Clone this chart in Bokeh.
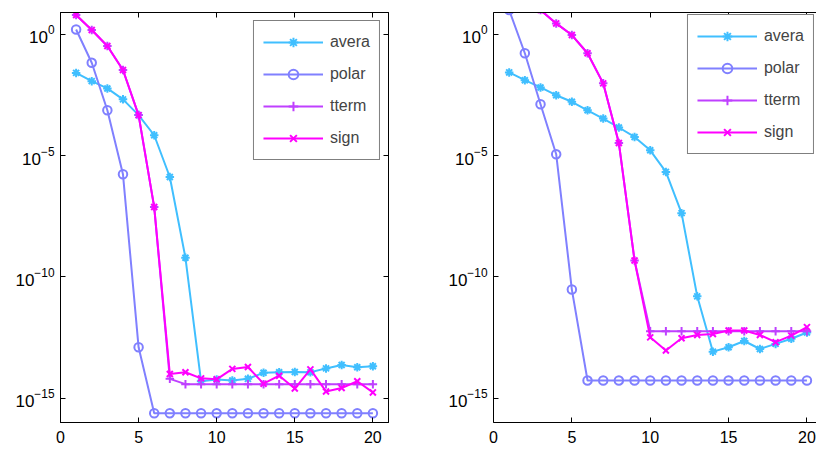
from bokeh.plotting import figure
from bokeh.models import (Range1d, FixedTicker, LogAxis, LinearAxis, Legend, LegendItem,
                          CustomJSTickFormatter, ColumnDataSource)
from bokeh.layouts import row
from bokeh.embed import file_html
from bokeh.resources import INLINE

iterations = list(range(1, 21))
series_names = ["avera", "polar", "tterm", "sign"]
series_colors = ["#40bfff", "#8080ff", "#bf40ff", "#ff00ff"]
series_markers = ["asterisk", "circle", "cross", "x"]
x_ticks = [0, 5, 10, 15, 20]
y_ticks = [1e-15, 1e-10, 1e-5, 1e0]

# log10 of the error, left panel
left_avera = [-1.59, -1.93, -2.23, -2.68, -3.33, -4.16, -5.88, -9.21, -14.30, -14.23,
              -14.27, -14.20, -13.95, -13.93, -13.92, -13.93, -13.77, -13.63, -13.72, -13.68]
left_polar = [0.20, -1.17, -3.13, -5.77, -12.90, -15.62, -15.62, -15.62, -15.62, -15.62,
              -15.62, -15.62, -15.62, -15.62, -15.62, -15.62, -15.62, -15.62, -15.62, -15.62]
left_tterm = [0.80, 0.18, -0.48, -1.47, -3.33, -7.12, -14.20, -14.42, -14.42, -14.42,
              -14.42, -14.42, -14.42, -14.42, -14.42, -14.42, -14.42, -14.42, -14.42, -14.42]
left_sign = [0.80, 0.18, -0.48, -1.47, -3.33, -7.12, -14.00, -13.93, -14.18, -14.22,
             -13.79, -13.71, -14.40, -14.07, -14.60, -13.81, -14.72, -14.58, -14.30, -14.76]

# log10 of the error, right panel
right_avera = [-1.57, -1.89, -2.19, -2.51, -2.78, -3.13, -3.47, -3.84, -4.23, -4.78,
               -5.67, -7.37, -10.80, -13.08, -12.90, -12.64, -12.97, -12.76, -12.55, -12.29]
right_polar = [1.00, -0.78, -2.88, -4.94, -10.52, -14.27, -14.27, -14.27, -14.27, -14.27,
               -14.27, -14.27, -14.27, -14.27, -14.27, -14.27, -14.27, -14.27, -14.27, -14.27]
right_tterm = [2.20, 1.60, 1.00, 0.45, -0.03, -0.78, -2.02, -4.48, -9.32, -12.24,
               -12.24, -12.24, -12.24, -12.24, -12.24, -12.24, -12.24, -12.24, -12.24, -12.24]
right_sign = [2.20, 1.60, 1.00, 0.45, -0.03, -0.78, -2.02, -4.48, -9.32, -12.49,
              -13.03, -12.53, -12.39, -12.35, -12.21, -12.21, -12.39, -12.69, -12.42, -12.07]

FONT = "Liberation Sans"


def style_axis(ax, labels=True, size="16px"):
    ax.axis_line_color = "black"
    ax.axis_line_width = 1
    ax.major_tick_in = 5
    ax.major_tick_out = 0
    ax.minor_tick_line_color = None
    ax.major_tick_line_color = "black"
    ax.major_label_text_font = FONT
    ax.major_label_text_font_size = size
    ax.major_label_text_color = "black"
    if not labels:
        ax.formatter = CustomJSTickFormatter(code="return ''")
        ax.major_label_standoff = 0


def make_panel(data, x_end, left_border, right_border, mirror_right, legend_margin):
    p = figure(width=408, height=450, x_range=Range1d(0, x_end),
               y_range=Range1d(1e-16, 10 ** 0.9), y_axis_type="log",
               output_backend="svg", toolbar_location=None,
               min_border_left=left_border, min_border_right=right_border,
               min_border_top=12, min_border_bottom=28)
    p.grid.visible = False
    p.outline_line_color = "black" if mirror_right else None
    p.background_fill_color = "white"
    p.border_fill_color = "white"

    p.xaxis.ticker = FixedTicker(ticks=x_ticks, minor_ticks=[])
    p.yaxis.ticker = FixedTicker(ticks=y_ticks, minor_ticks=[])
    for ax in p.xaxis:
        style_axis(ax, size="16px")
        ax.major_label_standoff = 8
    for ax in p.yaxis:
        style_axis(ax, size="17px")
        ax.major_label_standoff = 6

    top = LinearAxis(ticker=FixedTicker(ticks=x_ticks, minor_ticks=[]))
    style_axis(top, labels=False)
    p.add_layout(top, "above")
    if mirror_right:
        right = LogAxis(ticker=FixedTicker(ticks=y_ticks, minor_ticks=[]))
        style_axis(right, labels=False)
        p.add_layout(right, "right")

    items = []
    for name, color, marker, vals in zip(series_names, series_colors, series_markers, data):
        src = ColumnDataSource(dict(x=iterations, y=[10 ** v for v in vals]))
        lr = p.line("x", "y", source=src, line_color=color, line_width=2)
        sr = p.scatter("x", "y", source=src, marker=marker, size=8.5,
                       line_color=color, line_width=2, fill_color=None)
        items.append(LegendItem(label=name, renderers=[lr, sr]))

    legend = Legend(items=items, location="top_right", margin=legend_margin, padding=9,
                    spacing=8, glyph_width=60, glyph_height=24, label_height=24,
                    label_standoff=7, label_text_font=FONT, label_text_font_size="16px",
                    border_line_color="black", border_line_width=1,
                    background_fill_color="white", background_fill_alpha=1)
    p.add_layout(legend)
    return p


p_left = make_panel([left_avera, left_polar, left_tterm, left_sign], 21, 60, 20, True, 8)
p_right = make_panel([right_avera, right_polar, right_tterm, right_sign], 20.61, 85, 0, False, 2)

layout = row(p_left, p_right, spacing=0)
open("out.html", "w").write(file_html(layout, INLINE))
